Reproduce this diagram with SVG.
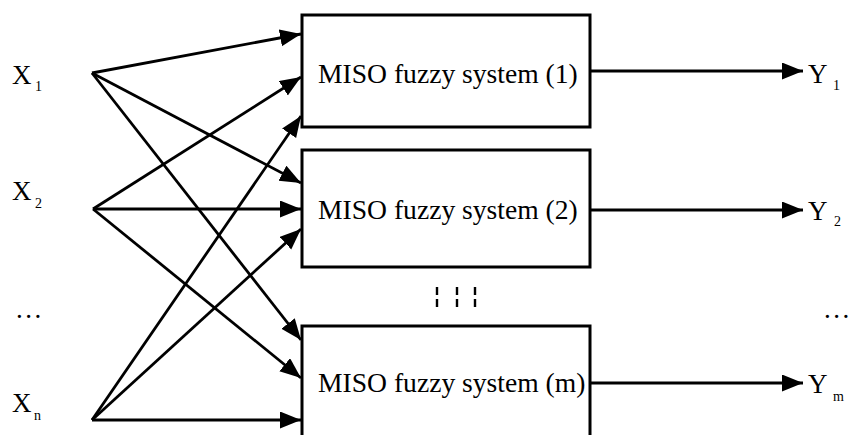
<svg xmlns="http://www.w3.org/2000/svg" width="854" height="435" viewBox="0 0 854 435">
<style>
  .box { fill: #fff; stroke: #000; stroke-width: 3; }
  .lbl { font-family: "Liberation Serif", "Times New Roman", serif; font-size: 27.6px; fill: #000; }
  .var { font-family: "Liberation Serif", "Times New Roman", serif; font-size: 27px; fill: #000; }
  .sub { font-family: "Liberation Serif", "Times New Roman", serif; font-size: 14px; fill: #000; }
  .edge { stroke: #000; stroke-width: 2.8; fill: none; marker-end: url(#ah); }
  .tick { stroke: #000; stroke-width: 2.4; stroke-dasharray: 8 4; }
</style>
<defs>
  <marker id="ah" markerUnits="userSpaceOnUse" markerWidth="24" markerHeight="20" refX="21" refY="8.5" orient="auto">
    <path d="M0,0 L21,8.5 L0,17 z" fill="#000"/>
  </marker>
</defs>
<rect width="854" height="435" fill="#fff"/>

<g id="connectors">
  <line class="edge" x1="92" y1="73" x2="301" y2="34"/>
  <line class="edge" x1="92" y1="73" x2="301" y2="183"/>
  <line class="edge" x1="92" y1="73" x2="301" y2="340"/>
  <line class="edge" x1="93" y1="209" x2="301" y2="77"/>
  <line class="edge" x1="93" y1="209" x2="301" y2="209"/>
  <line class="edge" x1="93" y1="209" x2="301" y2="378"/>
  <line class="edge" x1="92" y1="420" x2="301" y2="116"/>
  <line class="edge" x1="92" y1="420" x2="301" y2="229"/>
  <line class="edge" x1="92" y1="420" x2="301" y2="420"/>
  <line class="edge" x1="590" y1="71" x2="803" y2="71"/>
  <line class="edge" x1="590" y1="210" x2="803" y2="210"/>
  <line class="edge" x1="590" y1="383" x2="803" y2="383"/>
</g>

<g id="box1">
  <rect class="box" x="302" y="15" width="288" height="112"/>
  <text class="lbl" x="318" y="83">MISO fuzzy system (1)</text>
</g>
<g id="box2">
  <rect class="box" x="302" y="150" width="288" height="117"/>
  <text class="lbl" x="318" y="219">MISO fuzzy system (2)</text>
</g>
<g id="box3">
  <rect class="box" x="302" y="326" width="288" height="130"/>
  <text class="lbl" x="318" y="392">MISO fuzzy system (m)</text>
</g>

<g id="vdots">
  <line class="tick" x1="437" y1="287" x2="437" y2="307"/>
  <line class="tick" x1="457" y1="287" x2="457" y2="307"/>
  <line class="tick" x1="475" y1="287" x2="475" y2="307"/>
</g>

<g id="x1"><text class="var" x="12" y="84">X</text><text class="sub" x="35" y="91">1</text></g>
<g id="x2"><text class="var" x="12" y="200">X</text><text class="sub" x="35" y="208">2</text></g>
<g id="xdots"><text class="var" x="16" y="318" letter-spacing="2.5">...</text></g>
<g id="xn"><text class="var" x="12" y="412">X</text><text class="sub" x="34" y="420">n</text></g>

<g id="y1"><text class="var" x="808" y="83">Y</text><text class="sub" x="833" y="90">1</text></g>
<g id="y2"><text class="var" x="808" y="220">Y</text><text class="sub" x="834" y="226">2</text></g>
<g id="ydots"><text class="var" x="824" y="318" letter-spacing="2.5">...</text></g>
<g id="ym"><text class="var" x="808" y="393">Y</text><text class="sub" x="833" y="401">m</text></g>
</svg>
